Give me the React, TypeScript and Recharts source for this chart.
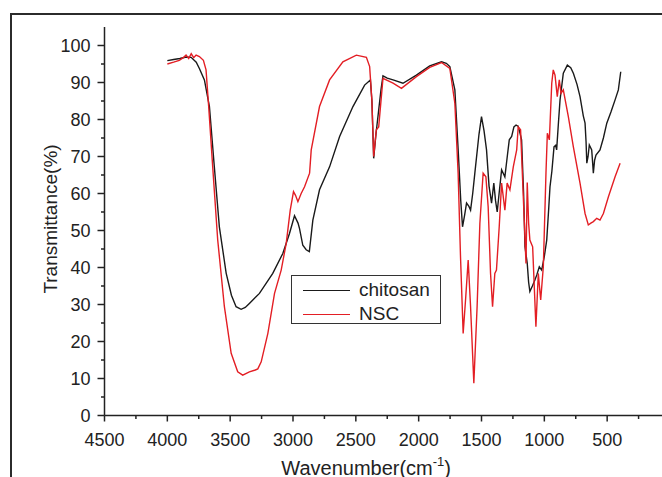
import React from 'react';
import { LineChart, Line, XAxis, YAxis, Legend } from 'recharts';

const chitosanWn = [4000,3950,3900,3850,3811,3770,3745,3705,3665,3626,3586,3532,3490,3453,3413,3380,3347,3267,3161,3081,3028,2988,2960,2948,2922,2895,2870,2842,2789,2709,2629,2523,2430,2384,2372,2358,2340,2324,2300,2284,2250,2204,2125,2018,1912,1818,1780,1752,1712,1686,1665,1651,1635,1619,1600,1587,1570,1553,1520,1500,1480,1460,1440,1420,1402,1388,1375,1360,1340,1314,1295,1279,1260,1242,1225,1208,1195,1181,1165,1154,1136,1125,1115,1095,1075,1060,1040,1021,1000,981,965,955,940,923,910,902,888,875,849,817,790,769,740,716,690,676,668,662,652,642,623,615,610,600,589,557,530,503,470,437,411,392];
const chitosanT = [95.9,96.2,96.5,96.9,96.8,95.5,93.8,90.7,83.5,67.2,51,38.5,32.5,29.4,28.7,29.2,30.3,33,38.4,43.8,49.2,54,52,50.5,46,44.8,44.3,52.8,61,67.2,75.4,83.5,89.3,90.7,85,69.5,76,80.8,88,91.8,91.2,90.7,89.8,92,94.5,95.6,95.2,94.3,88,72,58,51,54,57.4,56.5,55.5,60,65.5,76,80.8,77,71.8,62,57.4,62.8,58,55,60,66.4,64.5,70,74.5,75.4,78,78.5,78.2,76.5,74.5,60,45.6,41.1,36,33.5,35,36.6,38,40.2,39.3,43,47.4,56,61.8,66,72.6,73,71.8,79,85.3,92.5,94.7,94,92.5,89.5,86.2,81,79,74,68.2,70,73.1,71.8,68,65.5,69,70.4,71.8,75,79,82,85.3,88,92.9];

const nscWn = [4000,3950,3905,3870,3851,3830,3810,3790,3771,3745,3713,3692,3671,3639,3599,3546,3492,3440,3400,3347,3300,3280,3253,3200,3147,3094,3054,3022,2996,2980,2961,2935,2908,2868,2855,2789,2709,2603,2496,2416,2390,2372,2358,2337,2318,2284,2204,2137,2018,1912,1818,1752,1712,1686,1667,1646,1627,1606,1587,1561,1535,1513,1487,1465,1447,1428,1412,1394,1381,1359,1340,1314,1296,1274,1247,1220,1208,1189,1162,1146,1136,1125,1115,1093,1067,1048,1029,1008,987,976,960,941,929,915,897,881,867,849,809,769,716,676,650,630,610,583,557,530,490,437,397];
const nscT = [95,95.5,96,96.8,97.4,96.5,97.8,96.7,97.4,97,96,93.4,83.5,67.2,47.4,29.4,16.8,11.8,10.9,11.8,12.3,12.6,14.5,22.2,33,39.3,46.5,55.5,60.5,59.5,57.8,60,61.8,65.5,71.8,83.5,90.7,95.6,97.4,96.8,94.3,85,70,77.2,78,91.1,89.8,88.4,91.6,94.1,95.4,93.8,84.4,65.5,42.9,22.2,31.2,42,29.4,8.7,29.4,51.9,65.5,64.5,56.4,38.4,29.4,38.4,39.3,51,62.8,55.5,62.8,61,67.2,71.8,78,77.2,54.6,41.1,63,52,47.4,45.6,24,38.4,31.2,40.2,65.5,76.3,74.5,89.8,93.4,92,86.2,90.7,87.1,88,80.8,72.6,62.8,54.6,51.5,52,52.4,53.3,52.8,54.6,59.1,64.5,68.2];

const xTicks = [4500,4250,4000,3750,3500,3250,3000,2750,2500,2250,2000,1750,1500,1250,1000,750,500,250,0];
const yTicks = [0,5,10,15,20,25,30,35,40,45,50,55,60,65,70,75,80,85,90,95,100];

const chitosanData = chitosanWn.map((wn, i) => ({ wn, t: chitosanT[i] }));
const nscData = nscWn.map((wn, i) => ({ wn, t: nscT[i] }));

const AXIS = '#222';
const FONT = '"Liberation Sans", Arial, sans-serif';

const XTick = (props: any) => {
  const { x, y, payload } = props;
  const major = payload.value % 500 === 0;
  return (
    <g>
      <line x1={x} x2={x} y1={y} y2={y + (major ? 6 : 3.5)} stroke={AXIS} strokeWidth={1.5} />
      {major && (
        <text x={x} y={y + 30} textAnchor="middle" fontSize={18} fontFamily={FONT} fill="#222">
          {payload.value}
        </text>
      )}
    </g>
  );
};

const YTick = (props: any) => {
  const { x, y, payload } = props;
  const major = payload.value % 10 === 0;
  return (
    <g>
      <line x1={x - (major ? 7 : 3.5)} x2={x} y1={y} y2={y} stroke={AXIS} strokeWidth={1.5} />
      {major && (
        <text x={x - 14} y={y + 6.5} textAnchor="end" fontSize={18} fontFamily={FONT} fill="#222">
          {payload.value}
        </text>
      )}
    </g>
  );
};

const LegendBox = () => (
  <div
    style={{
      width: 148,
      height: 47,
      border: '1.5px solid #333',
      background: '#fff',
      fontFamily: FONT,
      fontSize: 19,
      color: '#222',
      position: 'relative',
    }}
  >
    {[
      { name: 'chitosan', color: '#1a1a1a', top: 14 },
      { name: 'NSC', color: '#e31e24', top: 38 },
    ].map((it) => (
      <div key={it.name} style={{ position: 'absolute', left: 11, top: it.top - 12, height: 24, display: 'flex', alignItems: 'center' }}>
        <div style={{ width: 47, height: 0, borderTop: `1.5px solid ${it.color}` }} />
        <span style={{ marginLeft: 9, lineHeight: '24px' }}>{it.name}</span>
      </div>
    ))}
  </div>
);

const XLabel = (props: any) => {
  const { viewBox } = props;
  const cx = viewBox.x + viewBox.width / 2 - 6;
  return (
    <text x={cx - 100} y={475} fontSize={20} fontFamily={FONT} fill="#222">
      Wavenumber(cm
      <tspan fontSize={13} dy={-9}>-1</tspan>
      <tspan dy={9}>)</tspan>
    </text>
  );
};

const YLabel = () => (
  <text
    x={0}
    y={0}
    transform="translate(57, 219) rotate(-90)"
    textAnchor="middle"
    fontSize={19}
    fontFamily={FONT}
    fill="#222"
  >
    Transmittance(%)
  </text>
);

export default function App() {
  return (
    <div style={{ position: 'fixed', left: 0, top: 0, width: 662, height: 477, overflow: 'hidden', background: '#fff' }}>
      <div
        style={{
          position: 'absolute',
          left: 10,
          top: 13,
          width: 800,
          height: 600,
          borderTop: '2.5px solid #2b2b2b',
          borderLeft: '2.5px solid #2b2b2b',
        }}
      />
      <div style={{ position: 'absolute', left: 0, top: 0 }}>
        <LineChart width={700} height={477} margin={{ top: 27, right: 30, bottom: 31.5, left: 0 }}>
          <XAxis
            type="number"
            dataKey="wn"
            domain={[0, 4500]}
            reversed
            ticks={xTicks}
            interval={0}
            tickLine={false}
            tickSize={0}
            tickMargin={0}
            tick={<XTick />}
            height={30}
            axisLine={{ stroke: AXIS, strokeWidth: 1.5 }}
            allowDataOverflow
            label={<XLabel />}
          />
          <YAxis
            type="number"
            domain={[0, 105]}
            ticks={yTicks}
            interval={0}
            tickLine={false}
            tickSize={0}
            tickMargin={0}
            tick={<YTick />}
            width={104.5}
            axisLine={{ stroke: AXIS, strokeWidth: 1.5 }}
            allowDataOverflow
            label={<YLabel />}
          />
          <Legend
            layout="vertical"
            align="center"
            verticalAlign="middle"
            content={<LegendBox />}
            wrapperStyle={{ position: 'absolute', left: 291, top: 275, width: 151, height: 50 }}
          />
          <Line data={chitosanData} dataKey="t" name="chitosan" stroke="#1a1a1a" strokeWidth={1.4} dot={false} isAnimationActive={false} type="linear" />
          <Line data={nscData} dataKey="t" name="NSC" stroke="#e31e24" strokeWidth={1.4} dot={false} isAnimationActive={false} type="linear" />
        </LineChart>
      </div>
    </div>
  );
}
